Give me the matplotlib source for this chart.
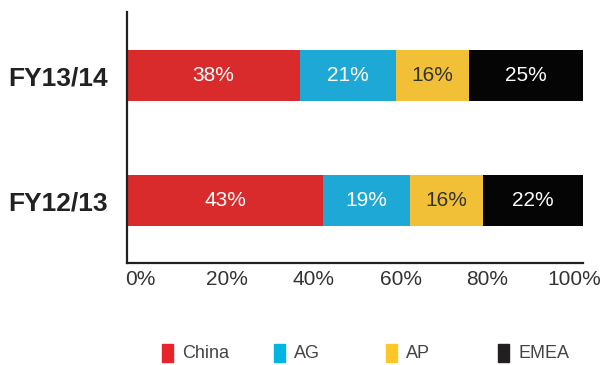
import matplotlib.pyplot as plt
from matplotlib.patches import Rectangle

years = ["FY12/13", "FY13/14"]
regions = ["China", "AG", "AP", "EMEA"]
china = [43, 38]
ag = [19, 21]
ap = [16, 16]
emea = [22, 25]
pct_ticks = [0, 20, 40, 60, 80, 100]

bar_colors = ["#D92B2B", "#1EA8D6", "#F2C037", "#050505"]
key_colors = ["#E8232A", "#00B5E2", "#FFC627", "#231F20"]
label_colors = ["white", "white", "#333333", "white"]

plt.rcParams["font.family"] = ["Liberation Sans", "DejaVu Sans"]

fig = plt.figure(figsize=(6.06, 3.65), dpi=100)
ax = fig.add_axes([0.2096, 0.279, 0.7524, 0.688])

series = [china, ag, ap, emea]
left = [0, 0]
for vals, color, tcol in zip(series, bar_colors, label_colors):
    bars = ax.barh(range(len(years)), vals, left=left, height=0.41, color=color)
    for rect, v in zip(bars, vals):
        ax.text(rect.get_x() + rect.get_width() / 2, rect.get_y() + rect.get_height() / 2,
                f"{v}%", ha="center", va="center", color=tcol, fontsize=15)
    left = [a + b for a, b in zip(left, vals)]

ax.set_xlim(0, 100)
ax.set_ylim(-0.5, 1.51)
# tick labels sit slightly inset so the end labels stay inside the frame
ax.set_xticks([3 + 0.95 * p for p in pct_ticks], [f"{p}%" for p in pct_ticks])
ax.set_yticks(range(len(years)), years)
ax.tick_params(axis="x", length=0, pad=5, labelsize=15, labelcolor="#333333")
ax.tick_params(axis="y", length=0, pad=14, labelsize=19, labelcolor="#222222")
for lab in ax.get_yticklabels():
    lab.set_fontweight("bold")
for side in ["top", "right"]:
    ax.spines[side].set_visible(False)
for side in ["left", "bottom"]:
    ax.spines[side].set_linewidth(1.6)
    ax.spines[side].set_color("#231F20")

# evenly spaced key below the axes
W, H = 606, 365
for i, (name, color) in enumerate(zip(regions, key_colors)):
    x0 = 162 + i * 112
    fig.add_artist(Rectangle((x0 / W, 1 - 362 / H), 11 / W, 18 / H,
                             transform=fig.transFigure, color=color))
    fig.text((x0 + 20) / W, 1 - 353 / H, name, ha="left", va="center",
             fontsize=13, color="#444444")

fig.savefig("out.png", dpi=100)
